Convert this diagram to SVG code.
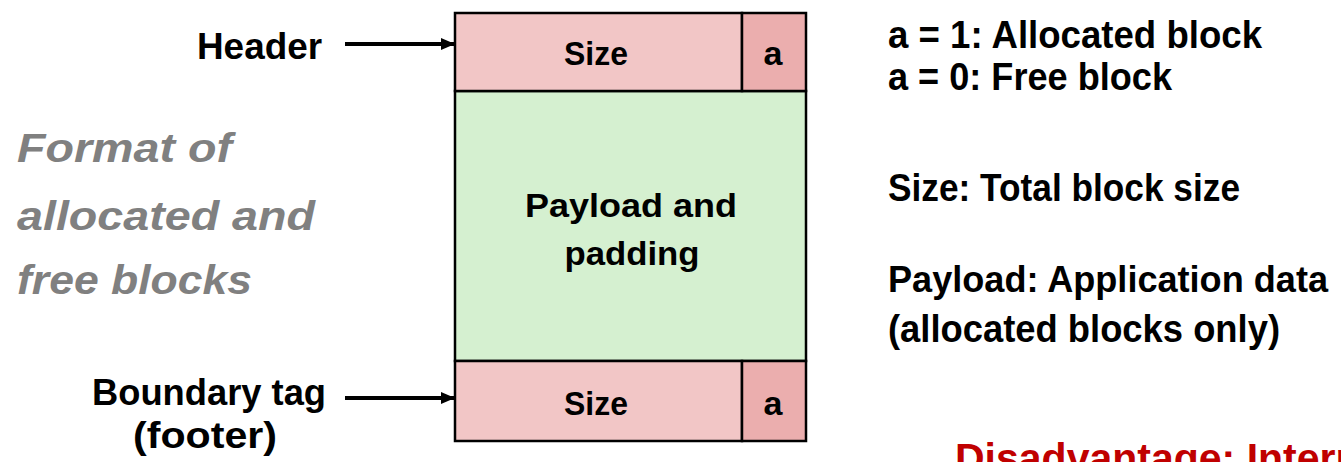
<svg xmlns="http://www.w3.org/2000/svg" width="1341" height="462" viewBox="0 0 1341 462">
<style>
.t{font-family:"Liberation Sans",Arial,sans-serif;font-weight:bold;fill:#000}
.g{font-family:"Liberation Sans",Arial,sans-serif;font-weight:bold;font-style:italic;fill:#808080;font-size:40px}
.r{font-family:"Liberation Sans",Arial,sans-serif;font-weight:bold;fill:#C00000;font-size:41px}
.box{stroke:#000;stroke-width:2.5}
.pink{fill:#F2C6C6}
.dpink{fill:#EBAEAE}
.green{fill:#D5F0D0}
.conn{stroke:#000;stroke-width:4;fill:none}
</style>
<defs>
<marker id="ah" markerWidth="14" markerHeight="12" refX="13" refY="6" orient="auto" markerUnits="userSpaceOnUse">
<path d="M0,0 L14,6 L0,12 z" fill="#000"/>
</marker>
</defs>
<rect width="1341" height="462" fill="#fff"/>

<g id="payload">
<rect class="box green" x="455" y="91" width="351" height="270"/>
<text class="t" x="631" y="217" font-size="34" text-anchor="middle" textLength="212" lengthAdjust="spacingAndGlyphs">Payload and</text>
<text class="t" x="632" y="265" font-size="34" text-anchor="middle" textLength="135" lengthAdjust="spacingAndGlyphs">padding</text>
</g>
<g id="header-block">
<rect class="box pink" x="455" y="13" width="287" height="78"/>
<rect class="box dpink" x="742" y="13" width="64" height="78"/>
<text class="t" x="596" y="65" font-size="33" text-anchor="middle" textLength="64" lengthAdjust="spacingAndGlyphs">Size</text>
<text class="t" x="773" y="65" font-size="34" text-anchor="middle">a</text>
</g>
<g id="footer-block">
<rect class="box pink" x="455" y="361" width="287" height="80"/>
<rect class="box dpink" x="742" y="361" width="64" height="80"/>
<text class="t" x="596" y="415" font-size="33" text-anchor="middle" textLength="64" lengthAdjust="spacingAndGlyphs">Size</text>
<text class="t" x="773" y="415" font-size="34" text-anchor="middle">a</text>
</g>

<g id="header-label">
<text class="t" x="197" y="59" font-size="36" textLength="125" lengthAdjust="spacingAndGlyphs">Header</text>
</g>
<g id="footer-label">
<text class="t" x="209" y="405" font-size="36" text-anchor="middle" textLength="234" lengthAdjust="spacingAndGlyphs">Boundary tag</text>
<text class="t" x="205" y="448" font-size="36" text-anchor="middle" textLength="144" lengthAdjust="spacingAndGlyphs">(footer)</text>
</g>

<g id="connectors">
<line class="conn" x1="345" y1="44" x2="454" y2="44" marker-end="url(#ah)"/>
<line class="conn" x1="345" y1="398" x2="454" y2="398" marker-end="url(#ah)"/>
</g>

<g id="title">
<text class="g" x="17" y="162" textLength="215" lengthAdjust="spacingAndGlyphs">Format of</text>
<text class="g" x="17" y="230" textLength="298" lengthAdjust="spacingAndGlyphs">allocated and</text>
<text class="g" x="17" y="294" textLength="235" lengthAdjust="spacingAndGlyphs">free blocks</text>
</g>

<g id="legend">
<text class="t" x="888" y="48" font-size="38" textLength="374" lengthAdjust="spacingAndGlyphs">a = 1: Allocated block</text>
<text class="t" x="888" y="90" font-size="38" textLength="284" lengthAdjust="spacingAndGlyphs">a = 0: Free block</text>
<text class="t" x="888" y="201" font-size="38" textLength="352" lengthAdjust="spacingAndGlyphs">Size: Total block size</text>
<text class="t" x="888" y="292" font-size="37" textLength="440" lengthAdjust="spacingAndGlyphs">Payload: Application data</text>
<text class="t" x="888" y="342" font-size="38" textLength="392" lengthAdjust="spacingAndGlyphs">(allocated blocks only)</text>
</g>

<g id="disadvantage">
<text class="r" x="955" y="472">Disadvantage: Internal fragmentation</text>
</g>
</svg>
